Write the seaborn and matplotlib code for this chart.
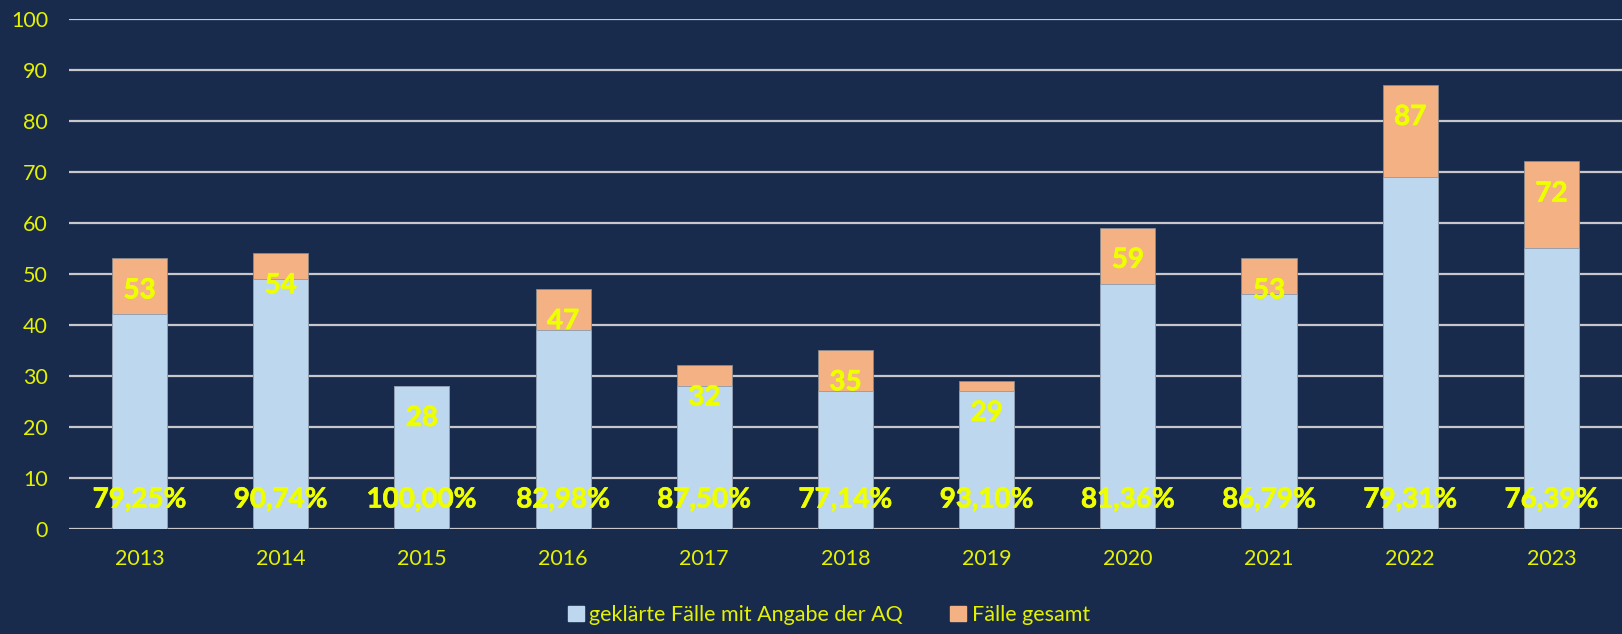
import matplotlib
matplotlib.use("Agg")
import matplotlib.pyplot as plt
import matplotlib.patheffects as pe
from matplotlib.patches import Patch
import seaborn as sns

# Data
years = ["2013", "2014", "2015", "2016", "2017", "2018", "2019", "2020", "2021", "2022", "2023"]
faelle_gesamt = [53, 54, 28, 47, 32, 35, 29, 59, 53, 87, 72]
geklaert_aq = [42, 49, 28, 39, 28, 27, 27, 48, 46, 69, 55]

bg = "#182B4C"
blue = "#BDD7EE"
orange = "#F4B183"
yellow = "#EEFF00"
tick_yellow = "#E4F200"

sns.set_theme(style="white")
plt.rcParams["font.family"] = ["Lato", "DejaVu Sans"]

fig = plt.figure(figsize=(16.22, 6.34), dpi=100, facecolor=bg)
ax = fig.add_axes([0.0425, 0.1662, 0.9575, 0.8046])
ax.set_facecolor(bg)

# total cases behind, clarified cases in front
sns.barplot(x=years, y=faelle_gesamt, color=orange, width=0.39, saturation=1,
            edgecolor="#8A8A8A", linewidth=0.6, ax=ax, zorder=2)
sns.barplot(x=years, y=geklaert_aq, color=blue, width=0.39, saturation=1,
            edgecolor="#8A9AAE", linewidth=0.6, ax=ax, zorder=3)

# value labels
bold = [pe.withStroke(linewidth=0.5, foreground=yellow)]
for i, (tot, kl) in enumerate(zip(faelle_gesamt, geklaert_aq)):
    ax.text(i, tot - 6.3, str(tot), ha="center", va="center", color=yellow,
            fontsize=20, fontweight="bold", zorder=5, path_effects=bold)
    pct = f"{kl / tot * 100:.2f}".replace(".", ",") + "%"
    ax.text(i, 5.7, pct, ha="center", va="center", color=yellow,
            fontsize=20, fontweight="bold", zorder=5, path_effects=bold)

ax.set_ylim(0, 100)
ax.set_yticks(range(0, 101, 10))
ax.set_xlim(-0.5, len(years) - 0.5)
ax.grid(axis="y", color="#C8C8CC", linewidth=1.6, zorder=0)
ax.set_axisbelow(True)
for s in ax.spines.values():
    s.set_visible(False)
ax.tick_params(axis="y", colors=tick_yellow, labelsize=15.5, length=0, pad=15)
ax.tick_params(axis="x", colors=tick_yellow, labelsize=15.5, length=0, pad=15)
ax.set_xlabel("")
ax.set_ylabel("")

handles = [Patch(facecolor=blue, edgecolor=blue, label="geklärte Fälle mit Angabe der AQ"),
           Patch(facecolor=orange, edgecolor=orange, label="Fälle gesamt")]
leg = fig.legend(handles=handles, loc="center", bbox_to_anchor=(0.511, 0.03), ncol=2,
                 frameon=False, fontsize=15.5, handlelength=0.75, handleheight=0.75,
                 handletextpad=0.25, columnspacing=2.2)
for t in leg.get_texts():
    t.set_color(tick_yellow)

fig.savefig("out.png", dpi=100, facecolor=bg)
